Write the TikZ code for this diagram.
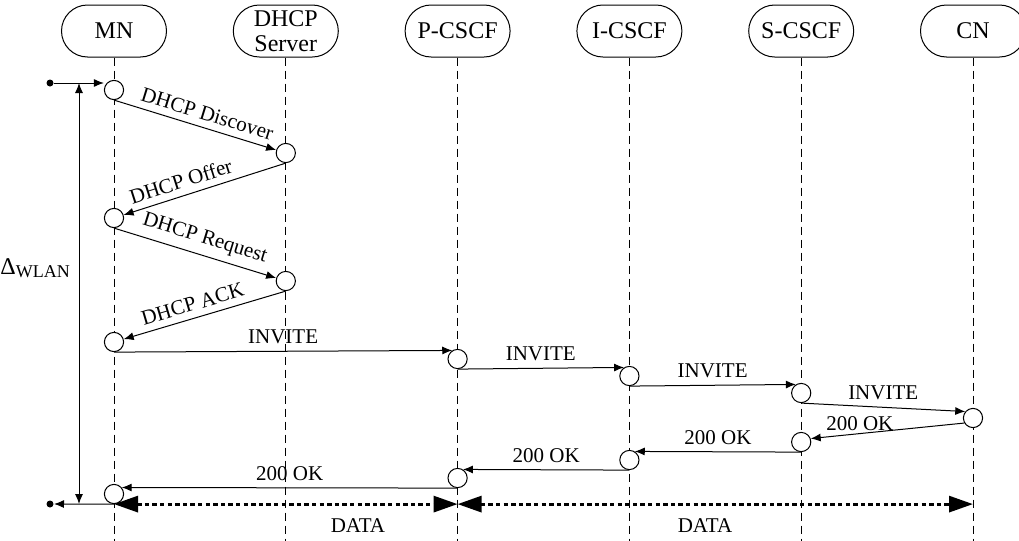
\documentclass[tikz,border=0pt]{standalone}
\usepackage{amsmath}
\usepackage{fontspec}
\setmainfont{Liberation Serif}
\usepackage{tikz}
\usetikzlibrary{arrows,arrows.meta,positioning}

\begin{document}
\begin{tikzpicture}[x=0.5pt,y=-0.5pt,-{Latex[length=5pt,width=4pt]},line width=0.5pt,node distance=85.9pt] \tikzstyle{entity}=[draw,rounded corners=13pt,minimum width=52.5pt,minimum height=26pt,inner sep=0pt,align=center,font=\fontsize{12}{12.5}\selectfont] \tikzstyle{ev}=[draw,circle,fill=white,minimum size=9.6pt,inner sep=0pt] \tikzstyle{dot}=[fill,circle,minimum size=3.5pt,inner sep=0pt] \tikzstyle{lifeline}=[-,dash pattern=on 4pt off 2.5pt,line width=0.4pt] \tikzstyle{data}=[{Triangle[length=12pt,width=8pt]}-{Triangle[length=12pt,width=8pt]},line width=1.5pt,dash pattern=on 2.2pt off 1.6pt] \tikzstyle{lbl}=[font=\fontsize{10.5}{11}\selectfont]

  \useasboundingbox (0,0) rectangle (1019,541);

  \node[entity]         (mn) at (114,31)       {MN};
  \node[entity]         (dh) [right of=mn]     {DHCP\\Server};
  \node[entity]         (pc) [right of=dh]     {P-CSCF};
  \node[entity]         (ic) [right of=pc]     {I-CSCF};
  \node[entity]         (sc) [right of=ic]     {S-CSCF};
  \node[entity]         (cn) [right of=sc]     {CN};

  \foreach \n in {mn,dh,pc,ic,sc,cn}
    \draw[lifeline] (\n.south) -- (\n.south |- 0,541);

  \node[ev] (mn1) at (mn |- 0,90)  {};
  \node[ev] (dh1) at (dh |- 0,153) {};
  \node[ev] (mn2) at (mn |- 0,218) {};
  \node[ev] (dh2) at (dh |- 0,281) {};
  \node[ev] (mn3) at (mn |- 0,342) {};
  \node[ev] (pc1) at (pc |- 0,359) {};
  \node[ev] (ic1) at (ic |- 0,376) {};
  \node[ev] (sc1) at (sc |- 0,393) {};
  \node[ev] (cn1) at (cn |- 0,418) {};
  \node[ev] (sc2) at (sc |- 0,442) {};
  \node[ev] (ic2) at (ic |- 0,460) {};
  \node[ev] (pc2) at (pc |- 0,478) {};
  \node[ev] (mn4) at (mn |- 0,494) {};

  \node[dot] (st) at (50,83)  {};
  \node[dot] (en) at (50,504) {};
  \coordinate (wl1) at (79,83);
  \coordinate (wl2) at (79,504);
  \coordinate (d1) at (mn4.south -| pc);
  \coordinate (d2) at (mn4.south -| cn);

  \path (mn1.south) edge node[lbl,sloped,above,pos=0.55] {DHCP Discover} (dh1)
        (dh1.south) edge node[lbl,sloped,above,pos=0.62] {DHCP Offer} (mn2)
        (mn2.south) edge node[lbl,sloped,above,pos=0.53] {DHCP Request} (dh2)
        (dh2.south) edge node[lbl,sloped,above,pos=0.55] {DHCP ACK} (mn3)
        (mn3.south) edge node[lbl,above] {INVITE} (pc1.122)
        (pc1.south) edge node[lbl,above] {INVITE} (ic1.122)
        (ic1.south) edge node[lbl,above] {INVITE} (sc1.122)
        (sc1.south) edge node[lbl,above] {INVITE} (cn1.140)
        (cn1.210) edge node[lbl,above=-2pt,pos=0.68] {200 OK} (sc2.20)
        (sc2.south) edge node[lbl,above] {200 OK} (ic2.58)
        (ic2.south) edge node[lbl,above] {200 OK} (pc2.58)
        (pc2.south) edge node[lbl,above] {200 OK} (mn4.40);

  \draw (st) -- (st -| mn1.west);
  \draw (mn4.south) -- (en);
  \draw[{Latex[length=5pt,width=4pt]}-{Latex[length=5pt,width=4pt]}] (wl1) -- node[pos=0.44,left=1pt,font=\fontsize{12}{12}\selectfont] {Δ\raisebox{-1.5pt}{\fontsize{9}{9}\selectfont WLAN}} (wl2);

  \draw[data] (mn4.south) -- node[lbl,pos=0.71,below=3pt] {DATA} (d1);
  \draw[data] (d1) -- node[lbl,pos=0.48,below=3pt] {DATA} (d2);
\end{tikzpicture}
\end{document}
